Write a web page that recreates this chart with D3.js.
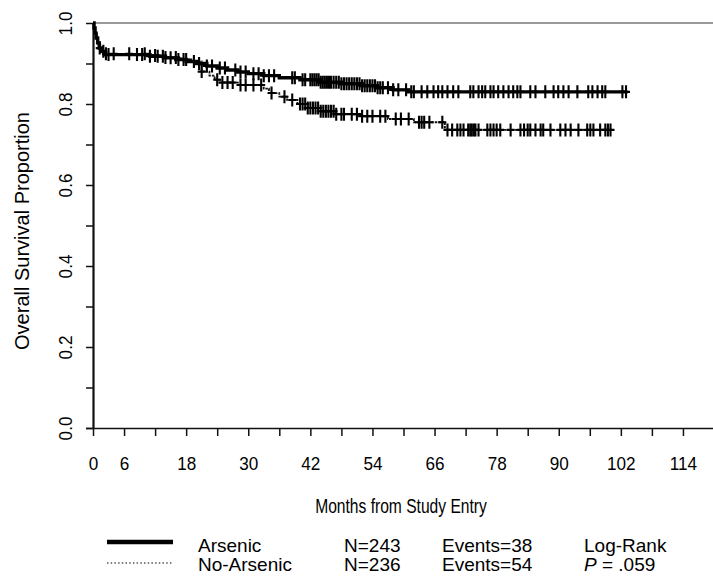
<!DOCTYPE html>
<html>
<head>
<meta charset="utf-8">
<script src="https://cdn.jsdelivr.net/npm/d3@7"></script>
<style>
  html, body { margin: 0; padding: 0; background: #fff; }
  svg { display: block; }
  text { font-family: "Liberation Sans", Arial, Helvetica, sans-serif; fill: #000; }
</style>
</head>
<body>
<svg id="chart" width="713" height="576"></svg>
<script>
// Kaplan-Meier overall survival by treatment arm

// Step points (months, survival proportion)
const arsenicTimes = [0, 0.2, 0.4, 0.6, 0.9, 1.2, 1.6, 2.2, 11, 14, 16, 18, 20, 22, 24, 26, 28, 30, 33, 36, 40, 44, 48, 52, 55, 58, 61];
const arsenicSurv  = [1.0, 0.988, 0.975, 0.963, 0.951, 0.938, 0.930, 0.922, 0.918, 0.914, 0.910, 0.905, 0.900, 0.894, 0.889, 0.884, 0.879, 0.875, 0.870, 0.865, 0.860, 0.854, 0.850, 0.845, 0.840, 0.835, 0.830];
const arsenicEnd = 103.3;

const noArsenicTimes = [0, 0.2, 0.4, 0.7, 1.0, 1.4, 1.8, 2.5, 11, 14, 17, 19, 21, 22.5, 23.5, 24.5, 28, 33, 34, 36, 37.5, 39.5, 41.5, 44, 47, 52, 57, 62, 68];
const noArsenicSurv  = [1.0, 0.987, 0.975, 0.962, 0.950, 0.940, 0.930, 0.924, 0.920, 0.915, 0.910, 0.905, 0.880, 0.870, 0.860, 0.853, 0.847, 0.838, 0.827, 0.818, 0.810, 0.800, 0.790, 0.782, 0.775, 0.770, 0.763, 0.755, 0.736];
const noArsenicEnd = 100.6;

// Censoring times (months)
const arsenicCensored = [1.3, 2, 3, 8.5, 9.5, 11, 12.5, 13.5, 15, 16.5, 17.5, 19.5, 20.5, 22, 23, 24.5, 25.5, 27.5, 28.5, 29.5, 31, 32, 33, 34, 35, 38.5, 39, 40.5, 41, 42, 42.4, 42.8, 43.2, 43.6, 44, 44.4, 44.8, 45.2, 45.6, 46, 46.5, 47, 47.5, 48, 48.5, 49, 49.5, 50, 50.5, 51, 51.5, 52, 52.5, 53, 53.5, 54, 54.5, 55, 55.5, 56, 57, 58, 59, 60.5, 61.5, 62, 63.5, 64.6, 65.8, 66.7, 67.5, 68.5, 69.6, 70.6, 72.9, 73.5, 74.5, 75.2, 75.8, 76.8, 77.4, 78.3, 79.3, 80.3, 81.2, 82, 82.6, 84.5, 85.5, 87.4, 89, 89.9, 90.9, 91.9, 93.6, 95.7, 96.5, 97.5, 98.4, 99, 102.3, 103];
const noArsenicCensored = [2.5, 4, 7, 10, 12, 14, 16, 18, 21, 24, 25, 26, 27, 28.5, 29.5, 31, 32.5, 34.5, 37, 38.5, 40, 40.5, 41, 41.5, 42, 42.5, 43, 43.5, 44, 44.5, 45, 45.5, 46, 46.5, 47, 48, 48.5, 50, 51, 52, 53, 54, 55.5, 56.5, 58.5, 59.5, 61, 63, 63.5, 64, 65, 67.5, 68.5, 69.4, 70.4, 71, 71.6, 72.5, 72.9, 73.2, 73.6, 73.9, 74.5, 76.2, 76.8, 77.4, 78, 78.7, 80.7, 82.6, 83.3, 84, 84.5, 85.5, 86.5, 87, 88.4, 90.3, 91.3, 92.3, 93.8, 95.5, 96.1, 96.7, 98, 99, 99.5, 100];

// Axis ticks
const xTickValues = [0, 6, 12, 18, 24, 30, 36, 42, 48, 54, 60, 66, 72, 78, 84, 90, 96, 102, 108, 114];
const xTickLabels = ["0", "6", "", "18", "", "30", "", "42", "", "54", "", "66", "", "78", "", "90", "", "102", "", "114"];
const yTickValues = [0, 0.1, 0.2, 0.3, 0.4, 0.5, 0.6, 0.7, 0.8, 0.9, 1.0];
const yTickLabels = ["0.0", "", "0.2", "", "0.4", "", "0.6", "", "0.8", "", "1.0"];

// Legend rows
const legendGroups = ["Arsenic", "No-Arsenic"];
const legendN = ["N=243", "N=236"];
const legendEvents = ["Events=38", "Events=54"];

const FS = 19;
const svg = d3.select("#chart");

// Narrow the glyphs of a text selection by a factor
function condense(sel, k) {
  sel.each(function () {
    const w = this.getComputedTextLength();
    if (w > 0) d3.select(this).attr("textLength", w * k).attr("lengthAdjust", "spacingAndGlyphs");
  });
}

const x = d3.scaleLinear().domain([0, 120]).range([93, 714]);
const y = d3.scaleLinear().domain([0, 1]).range([428, 23]);

// Frame line at top
svg.append("line")
  .attr("x1", x(0)).attr("x2", 713)
  .attr("y1", y(1)).attr("y2", y(1))
  .attr("stroke", "#777").attr("stroke-width", 1.3);

// X axis
const xAxis = d3.axisBottom(x)
  .tickValues(xTickValues)
  .tickFormat((d, i) => xTickLabels[i])
  .tickSize(8).tickSizeOuter(0).tickPadding(21);
const gx = svg.append("g").attr("transform", `translate(0,${y(0)})`).call(xAxis);
gx.select(".domain").attr("d", "M86,0.5H713").attr("stroke", "#111").attr("stroke-width", 1.7);
gx.selectAll(".tick line").attr("stroke", "#111").attr("stroke-width", 1.5);
gx.selectAll(".tick text").style("font-size", FS + "px").style("font-family", null);
condense(gx.selectAll(".tick text"), 0.9);

// Y axis
const yAxis = d3.axisLeft(y)
  .tickValues(yTickValues)
  .tickFormat((d, i) => yTickLabels[i])
  .tickSize(7).tickSizeOuter(0);
const gy = svg.append("g").attr("transform", `translate(${x(0)},0)`).call(yAxis);
gy.select(".domain").attr("stroke", "#111").attr("stroke-width", 2.2);
gy.selectAll(".tick line").attr("stroke", "#111").attr("stroke-width", 1.5);
gy.selectAll(".tick text")
  .attr("x", 0).attr("dy", null)
  .attr("text-anchor", "middle")
  .attr("transform", "translate(-21,0) rotate(-90)")
  .style("font-size", FS + "px").style("font-family", null);
condense(gy.selectAll(".tick text"), 0.9);

// Axis titles
const xTitle = svg.append("text")
  .attr("x", 401).attr("y", 513)
  .attr("text-anchor", "middle")
  .style("font-size", "20px")
  .text("Months from Study Entry");
condense(xTitle, 0.78);

svg.append("text")
  .attr("transform", "translate(29,231) rotate(-90)")
  .attr("text-anchor", "middle")
  .style("font-size", "20px")
  .text("Overall Survival Proportion");

// Survival curves
function stepPoints(times, surv, end) {
  const pts = times.map((t, i) => [t, surv[i]]);
  pts.push([end, surv[surv.length - 1]]);
  return pts;
}
function survAt(times, surv, t) {
  const i = d3.bisectRight(times, t) - 1;
  return surv[Math.max(0, i)];
}
const line = d3.line().x(d => x(d[0])).y(d => y(d[1])).curve(d3.curveStepAfter);

svg.append("path")
  .datum(stepPoints(noArsenicTimes, noArsenicSurv, noArsenicEnd))
  .attr("d", line)
  .attr("fill", "none").attr("stroke", "#111")
  .attr("stroke-width", 1.8).attr("stroke-dasharray", "2.5,1");

svg.append("path")
  .datum(stepPoints(arsenicTimes, arsenicSurv, arsenicEnd))
  .attr("d", line)
  .attr("fill", "none").attr("stroke", "#000")
  .attr("stroke-width", 3.4);

// Censoring marks
function drawCensors(times, surv, cens) {
  const g = svg.append("g").attr("stroke", "#000").attr("stroke-width", 2.1);
  g.selectAll("path").data(cens).join("path")
    .attr("d", t => {
      const cx = x(t), cy = y(survAt(times, surv, t));
      return `M${cx},${cy - 6.5}V${cy + 6.5}M${cx - 4},${cy}H${cx + 4}`;
    });
}
drawCensors(noArsenicTimes, noArsenicSurv, noArsenicCensored);
drawCensors(arsenicTimes, arsenicSurv, arsenicCensored);

// Legend
const leg = svg.append("g").style("font-size", FS + "px");
const lineY = [542, 563];
const textY = [552, 571];
leg.append("line").attr("x1", 107).attr("x2", 173).attr("y1", lineY[0]).attr("y2", lineY[0])
  .attr("stroke", "#000").attr("stroke-width", 4.5);
leg.append("line").attr("x1", 107).attr("x2", 173).attr("y1", lineY[1]).attr("y2", lineY[1])
  .attr("stroke", "#555").attr("stroke-width", 1.4).attr("stroke-dasharray", "1.5,2.2");
legendGroups.forEach((g, i) => {
  leg.append("text").attr("x", 198).attr("y", textY[i]).text(g);
  leg.append("text").attr("x", 344).attr("y", textY[i]).text(legendN[i]);
  leg.append("text").attr("x", 442).attr("y", textY[i]).text(legendEvents[i]);
});
leg.append("text").attr("x", 584).attr("y", textY[0]).text("Log-Rank");
const pv = leg.append("text").attr("x", 584).attr("y", textY[1]);
pv.append("tspan").style("font-style", "italic").text("P");
pv.append("tspan").text(" = .059");
</script>
</body>
</html>
